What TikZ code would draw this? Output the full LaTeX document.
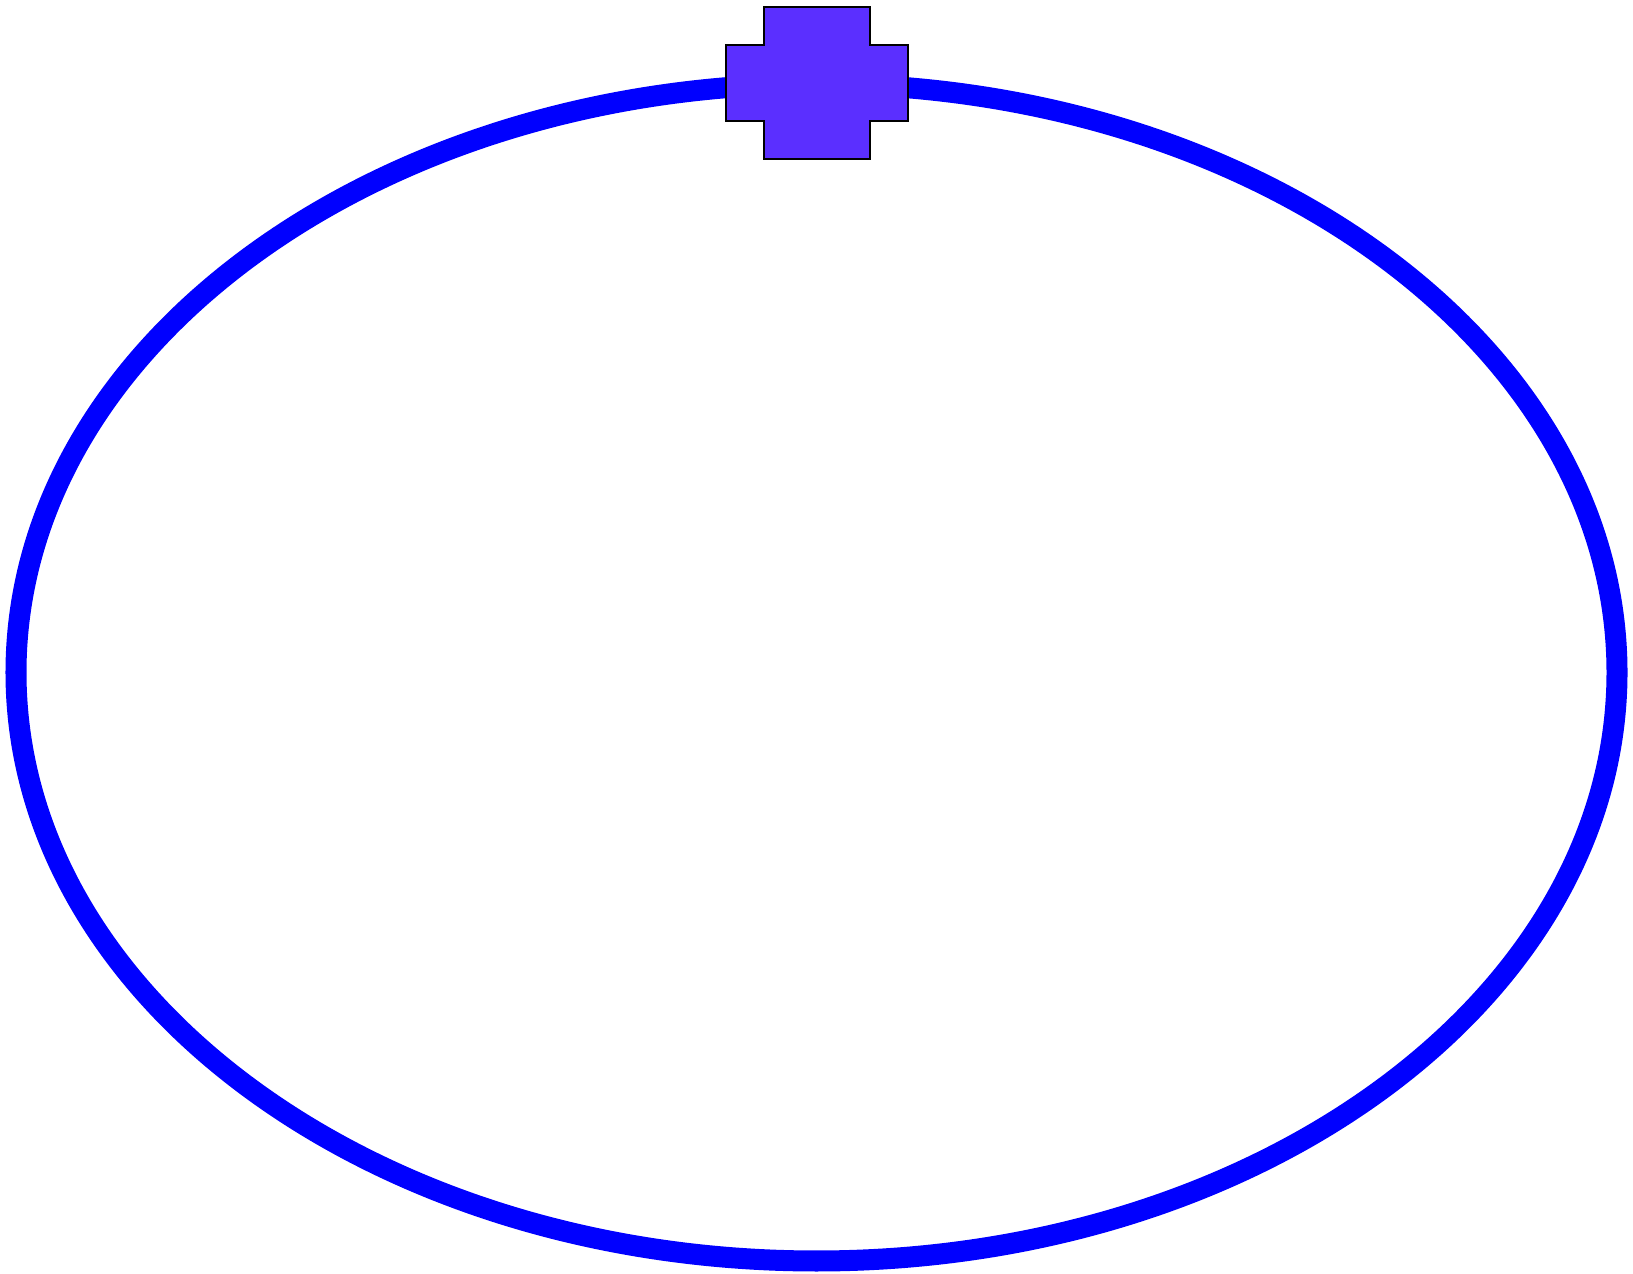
\documentclass[tikz,border=0pt]{standalone}
\definecolor{loopblue}{RGB}{0,0,255}
\definecolor{plusviolet}{RGB}{91,47,255}
\usepackage{tikz}
\usetikzlibrary{calc}

\begin{document}
\begin{tikzpicture}[x=0.01cm,y=-0.01cm]
    \useasboundingbox (0,0) rectangle (1633,1274);
    \coordinate (mid) at (816.5,672.5);
    \draw[loopblue, line width=0.21cm] (mid) ellipse [x radius=800.5, y radius=588.5];
    % plus marker on top of the loop
    \filldraw[fill=plusviolet, draw=black, line width=0.6pt]
        (764,7) -- (870,7) -- (870,45) -- (908,45) -- (908,121) -- (870,121)
        -- (870,159) -- (764,159) -- (764,121) -- (726,121) -- (726,45) -- (764,45) -- cycle;
  \end{tikzpicture}
\end{document}
